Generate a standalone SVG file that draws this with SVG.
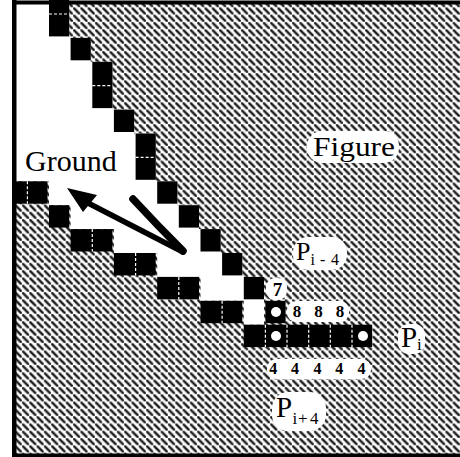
<svg xmlns="http://www.w3.org/2000/svg" width="460" height="457" viewBox="0 0 460 457">
<defs>
<pattern id="hatch" patternUnits="userSpaceOnUse" width="7.3" height="7.3">
<rect width="7.3" height="7.3" fill="#fff"/>
<path d="M0.7,0.7 L6.6,6.6" stroke="#999" stroke-width="3.3" stroke-linecap="round"/>
<path d="M1,1 L6.3,6.3" stroke="#111" stroke-width="1.7" stroke-linecap="round"/>
</pattern>
<style>
.px{fill:#000}
.sep{stroke:#fff;stroke-width:1.2;stroke-dasharray:3 2;fill:none}
.dot{fill:#fff}
.blob{fill:#fff}
.lbl{font-family:"Liberation Serif","Times New Roman",serif;fill:#000}
.num{font-family:"Liberation Serif","Times New Roman",serif;font-weight:bold;fill:#000;text-anchor:middle}
</style>
</defs>

<rect x="0" y="0" width="460" height="457" fill="#fff"/>
<rect id="figure" x="16" y="4" width="444" height="450" fill="url(#hatch)"/>

<path id="ground" fill="#fff" d="M16,4 H69.2 V37.9 H90.8 V61.8 H112.5 V109.6 H134.1 V133.5 H155.8 V181.3 H177.4 V205.2 H199 V229.1 H220.7 V253 H242.3 V276.9 H264 V324.7 H243.8 V300.8 H200.5 V276.9 H157.2 V253 H113.9 V229.1 H70.6 V205.2 H49 V181.3 H16 Z"/>

<g id="label-blobs">
<rect class="blob" x="307" y="131" width="92" height="32" rx="15"/>
<rect class="blob" x="293" y="237" width="54" height="33" rx="15"/>
<rect class="blob" x="266" y="278" width="21" height="22" rx="9"/>
<rect class="blob" x="287" y="301" width="62" height="21" rx="9"/>
<rect class="blob" x="398" y="324" width="27" height="30" rx="11"/>
<rect class="blob" x="267" y="359" width="104" height="20" rx="9"/>
<rect class="blob" x="272" y="392" width="54" height="39" rx="16"/>
</g>

<g id="pixels">
<rect class="px" x="49" y="0" width="20.2" height="36.4"/>
<rect class="px" x="70.6" y="37.9" width="20.2" height="22.4"/>
<rect class="px" x="92.3" y="61.8" width="20.2" height="46.3"/>
<rect class="px" x="113.9" y="109.6" width="20.2" height="22.4"/>
<rect class="px" x="135.6" y="133.5" width="20.2" height="46.3"/>
<rect class="px" x="157.2" y="181.3" width="20.2" height="22.4"/>
<rect class="px" x="178.8" y="205.2" width="20.2" height="22.4"/>
<rect class="px" x="200.5" y="229.1" width="20.2" height="22.4"/>
<rect class="px" x="222.1" y="253" width="20.2" height="22.4"/>
<rect class="px" x="243.8" y="276.9" width="20.2" height="22.4"/>
<rect class="px" x="265.4" y="300.8" width="20.2" height="22.4"/>
<rect class="px" x="12" y="181.3" width="35.5" height="22.4"/>
<rect class="px" x="49" y="205.2" width="20.2" height="22.4"/>
<rect class="px" x="70.6" y="229.1" width="41.8" height="22.4"/>
<rect class="px" x="113.9" y="253" width="41.8" height="22.4"/>
<rect class="px" x="157.2" y="276.9" width="41.8" height="22.4"/>
<rect class="px" x="200.5" y="300.8" width="41.8" height="22.4"/>
<rect class="px" x="243.8" y="324.7" width="128.3" height="22.4"/>
<path class="sep" d="M49,14 H69.2 M92.3,85.7 H112.5 M135.6,157.4 H155.8 M27.4,181.3 V203.7 M92.3,229.1 V251.5 M135.6,253 V275.4 M178.8,276.9 V299.3 M222.1,300.8 V323.2 M265.4,324.7 V347.1 M287,324.7 V347.1 M308.7,324.7 V347.1 M330.3,324.7 V347.1 M352,324.7 V347.1"/>
<circle class="dot" cx="276" cy="312" r="5"/>
<circle class="dot" cx="276" cy="336" r="5"/>
<circle class="dot" cx="363" cy="336" r="5"/>
</g>

<g id="labels">
<text class="lbl" x="25" y="171" font-size="30">Ground</text>
<text class="lbl" x="313" y="156" font-size="28" textLength="82" lengthAdjust="spacingAndGlyphs">Figure</text>
<text class="lbl"><tspan x="296" y="260" font-size="26">P</tspan><tspan x="310.5" y="265" font-size="16">i</tspan><tspan x="320" y="265" font-size="16">-</tspan><tspan x="331" y="265" font-size="16">4</tspan></text>
<text class="lbl"><tspan x="401" y="347" font-size="29">P</tspan><tspan x="417" y="350" font-size="17">i</tspan></text>
<text class="lbl"><tspan x="276" y="417" font-size="29">P</tspan><tspan x="292.5" y="424" font-size="17">i</tspan><tspan x="298" y="424" font-size="17">+</tspan><tspan x="310" y="424" font-size="17">4</tspan></text>
<text class="num" x="277.5" y="296" font-size="19">7</text>
<g font-size="17"><text class="num" x="297" y="317">8</text><text class="num" x="318.5" y="317">8</text><text class="num" x="340" y="317">8</text></g>
<g font-size="16"><text class="num" x="273.3" y="374">4</text><text class="num" x="295" y="374">4</text><text class="num" x="317.5" y="374">4</text><text class="num" x="339.3" y="374">4</text><text class="num" x="361.5" y="374">4</text></g>
</g>

<g id="connectors">
<path d="M133,199 Q158,226 183,251" stroke="#000" stroke-width="7.5" stroke-linecap="round" fill="none"/>
<path d="M183,252 L88,203" stroke="#000" stroke-width="5.5" stroke-linecap="round" fill="none"/>
<polygon points="67,188 83,212 97,195" fill="#000"/>
</g>

<g id="frame">
<rect x="12" y="0" width="4.5" height="457" fill="#000"/>
<rect x="12" y="0.5" width="448" height="4" fill="#000"/>
<rect x="12" y="453.5" width="448" height="3.5" fill="#000"/>
</g>
</svg>
